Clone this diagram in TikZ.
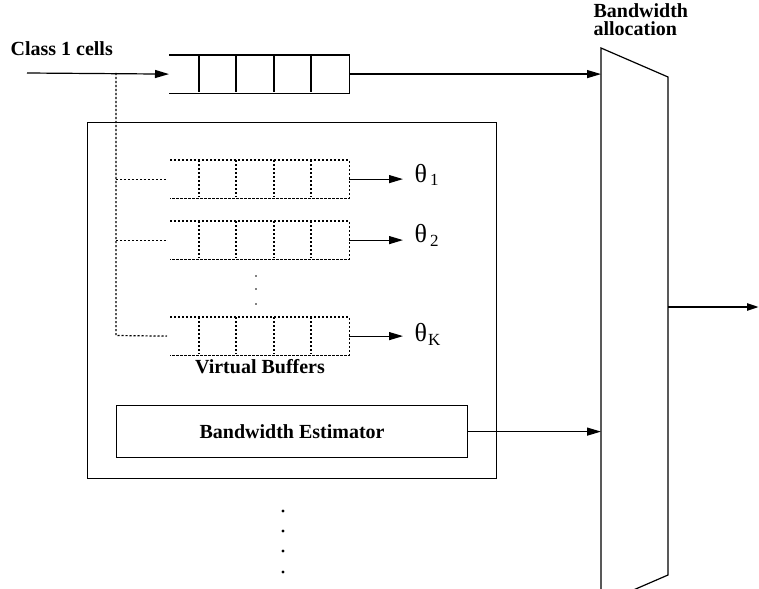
\documentclass[tikz,border=0pt]{standalone}
\usepackage{fontspec}
\setmainfont{Liberation Serif}
\usetikzlibrary{arrows.meta}
\begin{document}
\begin{tikzpicture}[x=1pt,y=-1pt, line width=1.2pt,
  lbl/.style={font=\fontsize{20}{20}\selectfont\bfseries, inner sep=0pt},
  th/.style={font=\fontsize{26}{26}\selectfont, inner sep=0pt, anchor=base west},
  sub/.style={},
  arr/.style={-{Triangle[length=14pt,width=8pt]}},
  dots/.style={dash pattern=on 2.2pt off 1.8pt},
  bufbox/.style={minimum width=178pt, minimum height=37pt, inner sep=0pt, anchor=north west},
  plainbox/.style={draw, inner sep=0pt, anchor=north west},
]
\useasboundingbox (0,0) rectangle (759,588);
\clip (0,0) rectangle (759,588);

% labels
\node[lbl, anchor=base west] (c1) at (10,56) {Class 1 cells};
\node[lbl, anchor=base west] (ba1) at (593,18) {Bandwidth};
\node[lbl, anchor=base west] (ba2) at (593,36) {allocation};

% real queue
\coordinate (in) at (27,73);
\node[bufbox, minimum width=179pt] (q) at (169,55) {};
\draw (q.north west) -- (q.north east) -- (q.south east) -- (q.south west);
\foreach \x in {199,236,274,311} \draw (\x,55) -- (\x,92);
\draw[arr] (in) -- (q.west);

% outer box
\node[plainbox, minimum width=409pt, minimum height=356pt] (outer) at (87,122) {};

% virtual buffers
\node[bufbox] (v1) at (170,160) {};
\node[bufbox] (v2) at (170,221) {};
\node[bufbox] (vk) at (170,317) {};
\foreach \v in {v1,v2,vk}{
  \draw[dots] (\v.north west) -- (\v.north east) -- (\v.south east) -- (\v.south west);
}
\foreach \y in {160,221,317}
  \foreach \x in {199,236,274,311} \draw[dots] (\x,\y) -- (\x,\y+37);

% feed lines
\coordinate (j) at (116,73);
\coordinate (jk) at (116,335.5);
\draw[dots] (j) -- (jk) -- ([xshift=-3pt]vk.west);
\draw[dots] (j |- v1.west) -- ([xshift=-3pt]v1.west);
\draw[dots] (j |- v2.west) -- ([xshift=-3pt]v2.west);

% theta labels
\newcommand{\subsc}[1]{\raisebox{-4pt}{\fontsize{17}{17}\selectfont #1}}
\node[th] (t1) at (414,182) {θ\hspace{3pt}\subsc{1}};
\node[th] (t2) at (414,242) {θ\hspace{3pt}\subsc{2}};
\node[th] (tk) at (414,341) {θ\hspace{1pt}\subsc{K}};
\draw[arr, shorten >=11pt] (v1.east) -- (v1.east -| t1.west);
\draw[arr, shorten >=11pt] (v2.east) -- (v2.east -| t2.west);
\draw[arr, shorten >=11pt] (vk.east) -- (vk.east -| tk.west);

% small dots
\foreach \y in {276,289,304} \fill (256,\y) circle (0.9pt);

\node[lbl, anchor=base] (vb) at (260,373) {Virtual Buffers};

% estimator
\node[plainbox, minimum width=351pt, minimum height=52pt] (est) at (116,405) {};
\node[lbl] (estl) at (est.center) {Bandwidth Estimator};

% bottom dots
\foreach \y in {511,531,551,572} \fill (283,\y) circle (1.6pt);

% multiplexer
\coordinate (mtl) at (601,48);
\coordinate (mtr) at (668,77);
\coordinate (mbr) at (668,575);
\coordinate (mbl) at (601,604);
\draw (mtl) -- (mtr) -- (mbr) -- (mbl) -- cycle;

\draw[arr] (q.east) -- (q.east -| mtl);
\draw[arr] (est.east) -- (est.east -| mtl);
\coordinate (out) at (759,307);
\draw[-{Triangle[length=12pt,width=7pt]}, line width=2.4pt] (mtr |- out) -- (out);
\end{tikzpicture}
\end{document}
